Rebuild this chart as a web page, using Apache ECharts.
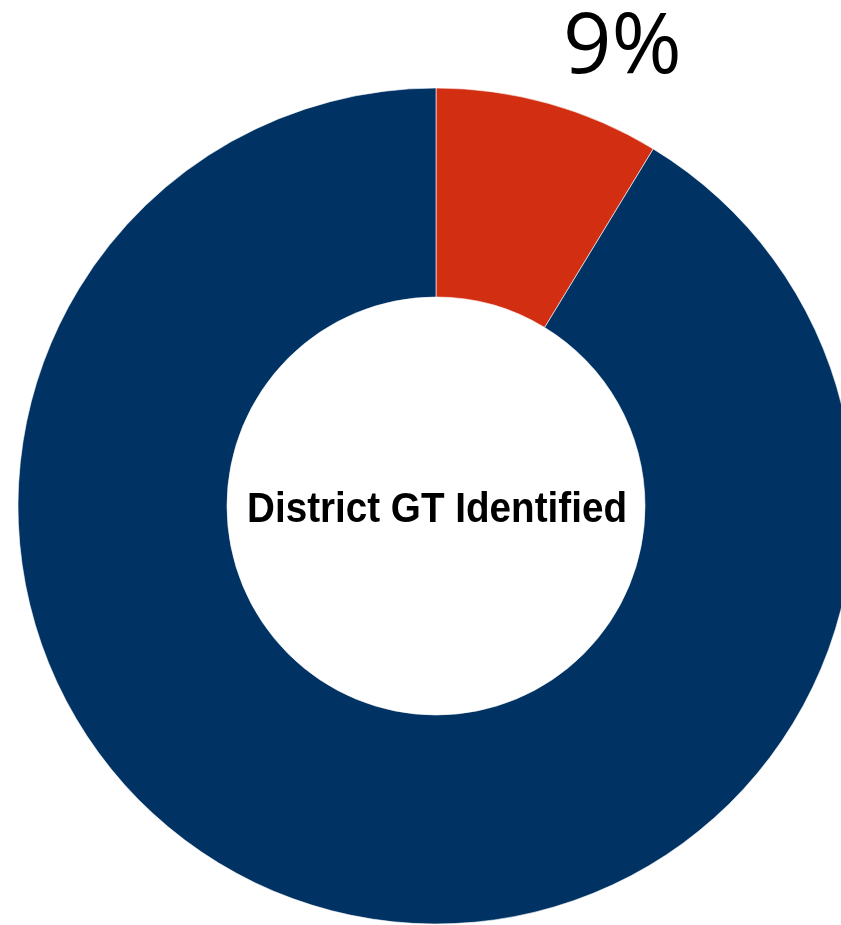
<!DOCTYPE html>
<html>
<head>
<meta charset="utf-8">
<script src="https://cdn.jsdelivr.net/npm/echarts@6/dist/echarts.min.js"></script>
<style>
html,body{margin:0;padding:0;background:#fff;}
#chart{width:841px;height:925px;}
</style>
</head>
<body>
<div id="chart"></div>
<script>
const categories = ['District GT Identified', 'Other'];
const values = [8.7, 91.3];
const colors = ['#D22F12', '#003263'];
const centerLabel = 'District GT Identified';

function render() {
  const cv = document.createElement('canvas').getContext('2d');
  cv.font = 'bold 43px "Liberation Sans"';
  const w = cv.measureText(centerLabel).width;
  const sx = 380 / w;

  const chart = echarts.init(document.getElementById('chart'), null, {renderer: 'canvas'});
  chart.setOption({
    animation: false,
    series: [{
      type: 'pie',
      center: [436, 506],
      radius: [209, 418],
      startAngle: 90,
      clockwise: true,
      silent: true,
      label: {show: false},
      labelLine: {show: false},
      itemStyle: {borderColor: '#ffffff', borderWidth: 0.6},
      data: categories.map((c, i) => ({name: c, value: values[i], itemStyle: {color: colors[i]}}))
    }],
    graphic: [
      {
        type: 'text',
        left: 563,
        top: 6,
        style: {
          text: Math.round(values[0]) + '%',
          fontFamily: 'Open Sans',
          fontSize: 85,
          fill: '#000'
        }
      },
      {
        type: 'text',
        x: 437,
        y: 510,
        scaleX: sx,
        style: {
          text: centerLabel,
          fontFamily: 'Liberation Sans',
          fontWeight: 'bold',
          fontSize: 43,
          fill: '#000',
          align: 'center',
          verticalAlign: 'middle'
        }
      }
    ]
  });
}

if (document.fonts && document.fonts.load) {
  Promise.all([
    document.fonts.load('85px "Open Sans"'),
    document.fonts.load('bold 43px "Liberation Sans"')
  ]).then(render, render);
} else {
  render();
}
</script>
</body>
</html>
